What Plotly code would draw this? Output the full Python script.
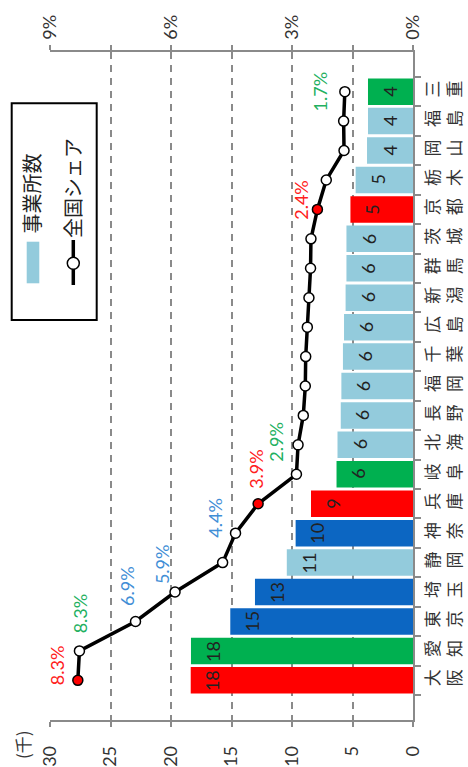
import plotly.graph_objects as go

# ---------------- data ----------------
prefectures = ["大阪", "愛知", "東京", "埼玉", "静岡", "神奈川", "兵庫", "岐阜", "北海道", "長野",
               "福岡", "千葉", "広島", "新潟", "群馬", "茨城", "京都", "栃木", "岡山", "福島", "三重"]
tick_labels = ["大<br>阪", "愛<br>知", "東<br>京", "埼<br>玉", "静<br>岡", "神<br>奈", "兵<br>庫", "岐<br>阜",
               "北<br>海", "長<br>野", "福<br>岡", "千<br>葉", "広<br>島", "新<br>潟", "群<br>馬", "茨<br>城",
               "京<br>都", "栃<br>木", "岡<br>山", "福<br>島", "三<br>重"]
regions = ["関西", "東海", "関東", "関東", "その他", "関東", "関西", "東海", "その他", "その他",
           "その他", "その他", "その他", "その他", "その他", "その他", "関西", "その他", "その他", "その他", "東海"]
offices = [18.37, 18.35, 15.1, 13.06, 10.43, 9.7, 8.43, 6.32, 6.24, 5.97,
           5.92, 5.79, 5.7, 5.57, 5.5, 5.5, 5.17, 4.74, 3.8, 3.72, 3.72]      # 千事業所
office_labels = [18, 18, 15, 13, 11, 10, 9, 6, 6, 6, 6, 6, 6, 6, 6, 6, 5, 5, 4, 4, 4]
share = [8.31, 8.27, 6.88, 5.90, 4.72, 4.40, 3.84, 2.89, 2.85, 2.72,
         2.67, 2.66, 2.62, 2.58, 2.54, 2.53, 2.37, 2.15, 1.71, 1.72, 1.69]   # %
share_labels = ["8.3%", "8.3%", "6.9%", "5.9%", "", "4.4%", "3.9%", "2.9%", "", "",
                "", "", "", "", "", "", "2.4%", "", "", "", "1.7%"]
x_ticks = [0, 5, 10, 15, 20, 25, 30]
x2_ticks = [0, 1.5, 3, 4.5, 6, 7.5, 9]
x2_ticktext = ["0%", "", "3%", "", "6%", "", "9%"]

# ---------------- style ----------------
W, H = 468, 767
ML, MR, MT, MB = 50, 55, 52, 47
PW, PH = W - ML - MR, H - MT - MB
FONT = "Lato, 'Noto Sans CJK JP', sans-serif"
CJK = "'Noto Sans CJK JP', sans-serif"
GRAY = "#8a8a8a"
bar_colors = {"関西": "#FF0000", "東海": "#00B050", "関東": "#0C66C2", "その他": "#93CBDC"}
label_colors = {"関西": "#FF2020", "東海": "#22B060", "関東": "#3F8ED6", "その他": "#3F8ED6"}
marker_fill = {"関西": "#FF0000", "東海": "#FFFFFF", "関東": "#FFFFFF", "その他": "#FFFFFF"}
# label offsets (px) relative to share points
label_shift = {"大阪": (-20, 15), "愛知": (0, 38), "東京": (-8, 35), "埼玉": (-13, 28),
               "神奈川": (-20, 15), "兵庫": (-2, 35), "岐阜": (-20, 33), "京都": (-16, 10),
               "三重": (-25, 0)}


def px2paper(x, y):
    return (x - ML) / PW, (H - MB - y) / PH


fig = go.Figure()

fig.add_trace(go.Bar(
    y=prefectures, x=offices, orientation="h",
    marker=dict(color=[bar_colors[r] for r in regions], line=dict(width=0)),
    xaxis="x", yaxis="y", name="事業所数", hoverinfo="x+y",
))

fig.add_trace(go.Scatter(
    y=prefectures, x=share, xaxis="x2", yaxis="y", mode="lines+markers",
    line=dict(color="black", width=3.5),
    marker=dict(size=10, symbol="circle", color=[marker_fill[r] for r in regions],
                line=dict(color="black", width=1.5)),
    name="全国シェア",
))

annotations = []
for p, v, lab in zip(prefectures, offices, office_labels):
    annotations.append(dict(x=v, y=p, xref="x", yref="y", text=str(lab), showarrow=False,
                            textangle=-90, xshift=22, xanchor="center", yanchor="middle",
                            font=dict(family=FONT, size=18, color="#222222")))
for p, s, lab, r in zip(prefectures, share, share_labels, regions):
    if lab:
        dx, dy = label_shift[p]
        annotations.append(dict(x=s, y=p, xref="x2", yref="y", text=lab, showarrow=False,
                                textangle=-90, xshift=dx, yshift=dy,
                                xanchor="center", yanchor="middle",
                                font=dict(family=FONT, size=18, color=label_colors[r])))

# axis unit
ux, uy = px2paper(22, 745)
annotations.append(dict(x=ux, y=uy, xref="paper", yref="paper", text="(千)", showarrow=False,
                        textangle=-90, xanchor="center", yanchor="middle",
                        font=dict(family=CJK, size=17, color="#333333")))

# manual legend (rotated like the chart)
shapes = []
x0, y0 = px2paper(11.7, 103.3)
x1, y1 = px2paper(96.7, 320)
shapes.append(dict(type="rect", xref="paper", yref="paper", x0=x0, y0=y1, x1=x1, y1=y0,
                   line=dict(color="black", width=2), fillcolor="white", layer="above"))
a0, b0 = px2paper(26.7, 241.7)
a1, b1 = px2paper(39.3, 283.3)
shapes.append(dict(type="rect", xref="paper", yref="paper", x0=a0, y0=b1, x1=a1, y1=b0,
                   line=dict(width=0), fillcolor=bar_colors["その他"], layer="above"))
l0x, l0y = px2paper(73.3, 240)
l1x, l1y = px2paper(73.3, 285)
shapes.append(dict(type="line", xref="paper", yref="paper", x0=l0x, y0=l0y, x1=l1x, y1=l1y,
                   line=dict(color="black", width=3.5), layer="above"))
c0x, c0y = px2paper(73.3 - 6, 263.3 - 6)
c1x, c1y = px2paper(73.3 + 6, 263.3 + 6)
shapes.append(dict(type="circle", xref="paper", yref="paper", x0=c0x, y0=c1y, x1=c1x, y1=c0y,
                   line=dict(color="black", width=1.5), fillcolor="white", layer="above"))
tx, ty = px2paper(31, 193.5)
annotations.append(dict(x=tx, y=ty, xref="paper", yref="paper", text="事業所数", showarrow=False,
                        textangle=-90, xanchor="center", yanchor="middle",
                        font=dict(family=CJK, size=20, color="#222222")))
tx, ty = px2paper(72, 188)
annotations.append(dict(x=tx, y=ty, xref="paper", yref="paper", text="全国シェア", showarrow=False,
                        textangle=-90, xanchor="center", yanchor="middle",
                        font=dict(family=CJK, size=20, color="#222222")))

fig.update_layout(
    template="none",
    width=W, height=H,
    margin=dict(l=ML, r=MR, t=MT, b=MB, pad=0),
    paper_bgcolor="white", plot_bgcolor="white",
    showlegend=False,
    bargap=0.1,
    font=dict(family=FONT, size=18, color="#333333"),
    xaxis=dict(range=[30, 0], tickvals=x_ticks, tickangle=-90, showgrid=True,
               gridcolor=GRAY, griddash="7px,6px", gridwidth=1.5,
               showline=True, linecolor=GRAY, linewidth=1.5,
               ticks="outside", ticklen=5, tickcolor=GRAY, tickwidth=1.5,
               zeroline=False, automargin=False, ticklabelstandoff=12,
               tickfont=dict(family=FONT, size=18, color="#333333")),
    xaxis2=dict(range=[9, 0], overlaying="x", side="top", anchor="y",
                tickvals=x2_ticks, ticktext=x2_ticktext, tickangle=-90,
                showgrid=False, zeroline=False,
                showline=True, linecolor=GRAY, linewidth=1.5,
                ticks="outside", ticklen=5, tickcolor=GRAY, tickwidth=1.5,
                automargin=False, ticklabelstandoff=2,
                tickfont=dict(family=FONT, size=18, color="#333333")),
    yaxis=dict(type="category", categoryorder="array", categoryarray=prefectures,
               tickvals=prefectures, ticktext=tick_labels, tickangle=-90,
               side="right", tickson="boundaries", ticks="outside", ticklen=6,
               tickcolor=GRAY, tickwidth=1.5, showline=True, linecolor=GRAY, linewidth=1.5,
               showgrid=False, zeroline=False, automargin=False, ticklabelstandoff=4,
               tickfont=dict(family=CJK, size=17, color="#333333")),
    annotations=annotations,
    shapes=shapes,
)

fig.write_html("out.html", config={"displayModeBar": False},
               post_script="document.body.style.margin='0';document.body.style.padding='0';"
                           "document.body.style.overflow='hidden';")
